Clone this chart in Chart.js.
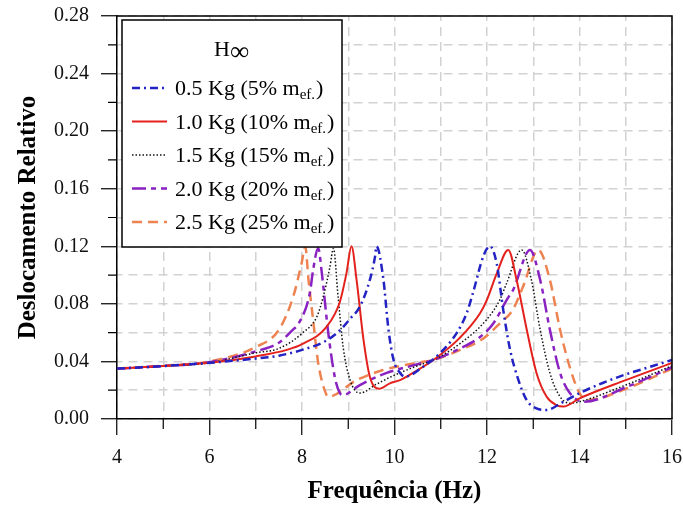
<!DOCTYPE html>
<html>
<head>
<meta charset="utf-8">
<script src="https://cdn.jsdelivr.net/npm/chart.js@4.4.1/dist/chart.umd.min.js"></script>
<style>
    html, body { margin: 0; padding: 0; background: #fff; }
</style>
</head>
<body>
<canvas id="chartDisp" width="683" height="506"></canvas>
<script>
// values (frequency in Hz, relative displacement)
const freq05 = [4, 5, 6, 7, 7.5, 8, 8.5, 8.8, 9.05, 9.25, 9.47, 9.58, 9.61, 9.76, 9.87, 9.98, 10.12, 10.23, 10.62, 10.98, 11.34, 11.56, 11.7, 11.92, 12.06, 12.21, 12.35, 12.5, 12.68, 12.86, 13.07, 13.29, 13.6, 14.0, 14.5, 15, 15.5, 16];
const disp05 = [0.035, 0.0368, 0.039, 0.042, 0.044, 0.048, 0.054, 0.061, 0.07, 0.078, 0.097, 0.113, 0.12, 0.097, 0.062, 0.041, 0.032, 0.0294, 0.0363, 0.0456, 0.0595, 0.0735, 0.088, 0.113, 0.12, 0.108, 0.076, 0.048, 0.027, 0.013, 0.0074, 0.0063, 0.011, 0.018, 0.025, 0.031, 0.036, 0.041];

const freq10 = [4, 5, 6, 7, 7.67, 8, 8.53, 8.82, 8.96, 9.07, 9.18, 9.33, 9.47, 9.67, 9.9, 10.12, 10.5, 10.84, 11.4, 11.85, 12.0, 12.21, 12.46, 12.64, 12.86, 13.07, 13.29, 13.5, 13.65, 14.0, 15, 16];
const disp10 = [0.035, 0.0368, 0.039, 0.0435, 0.048, 0.052, 0.064, 0.0815, 0.101, 0.12, 0.0966, 0.055, 0.029, 0.021, 0.0248, 0.027, 0.034, 0.041, 0.056, 0.0735, 0.083, 0.101, 0.1175, 0.0966, 0.062, 0.032, 0.0155, 0.0097, 0.0086, 0.0143, 0.027, 0.039];

const freq15 = [4, 5, 6, 7, 7.5, 8.02, 8.32, 8.46, 8.6, 8.68, 8.78, 8.89, 9.04, 9.25, 9.6, 9.97, 10.5, 10.84, 11.4, 11.99, 12.28, 12.42, 12.75, 12.96, 13.15, 13.36, 13.58, 13.79, 14.0, 15, 16];
const disp15 = [0.035, 0.0368, 0.039, 0.046, 0.049, 0.06, 0.071, 0.085, 0.105, 0.1185, 0.085, 0.05, 0.027, 0.018, 0.024, 0.03, 0.037, 0.041, 0.052, 0.069, 0.083, 0.094, 0.1175, 0.0966, 0.062, 0.032, 0.0155, 0.011, 0.012, 0.0236, 0.037];

const freq20 = [4, 5, 6, 7, 7.5, 7.8, 7.93, 8.17, 8.24, 8.35, 8.43, 8.56, 8.71, 8.82, 8.89, 9.25, 9.83, 10.5, 10.84, 11.42, 11.85, 12.14, 12.43, 12.57, 12.93, 13.15, 13.36, 13.58, 13.79, 14.1, 15, 16];
const disp20 = [0.035, 0.0368, 0.0395, 0.047, 0.053, 0.062, 0.0665, 0.0875, 0.1035, 0.1186, 0.101, 0.062, 0.029, 0.018, 0.0167, 0.0236, 0.032, 0.038, 0.041, 0.049, 0.057, 0.0665, 0.083, 0.09, 0.1175, 0.0966, 0.062, 0.032, 0.018, 0.012, 0.022, 0.036];

const freq25 = [4, 5, 6, 7, 7.5, 7.81, 7.99, 8.07, 8.14, 8.24, 8.35, 8.53, 8.57, 9.18, 9.75, 10.48, 10.84, 11.42, 11.92, 12.28, 12.56, 12.78, 13.11, 13.36, 13.58, 13.79, 14.0, 14.19, 15, 16];
const disp25 = [0.035, 0.037, 0.04, 0.05, 0.062, 0.085, 0.108, 0.12, 0.097, 0.069, 0.039, 0.0167, 0.0155, 0.027, 0.034, 0.039, 0.041, 0.048, 0.056, 0.0665, 0.076, 0.092, 0.1175, 0.0966, 0.062, 0.036, 0.018, 0.0132, 0.021, 0.035];

const legendTitle = 'H';
const legendTitleSub = '\u221E';
const legendMain = ['0.5 Kg (5% m', '1.0 Kg (10% m', '1.5 Kg (15% m', '2.0 Kg (20% m', '2.5 Kg (25% m'];
const legendSub = 'ef.';
const legendClose = ')';

const xTitle = 'Frequência (Hz)';
const yTitle = 'Deslocamento Relativo';

const serif = '"Liberation Serif", "DejaVu Serif", serif';

function zip(xs, ys) {
    return xs.map((x, i) => ({x: x, y: ys[i]}));
}

const seriesStyles = [
    {color: '#2323c4', dash: [8, 4, 2, 4], width: 2.5},
    {color: '#e3221e', dash: [], width: 2},
    {color: '#111111', dash: [1.5, 2], width: 1.5},
    {color: '#8a22c2', dash: [14, 5, 5, 5], width: 2.5},
    {color: '#ee8352', dash: [10, 6], width: 2.5}
];
const seriesData = [zip(freq05, disp05), zip(freq10, disp10), zip(freq15, disp15), zip(freq20, disp20), zip(freq25, disp25)];

const datasets = seriesData.map((data, i) => ({
    label: legendMain[i] + legendSub + legendClose,
    data: data,
    borderColor: seriesStyles[i].color,
    borderDash: seriesStyles[i].dash,
    borderWidth: seriesStyles[i].width,
    pointRadius: 0,
    fill: false,
    cubicInterpolationMode: 'monotone'
}));

function isMajorY(value) {
    return Math.round(value * 100) % 4 === 0;
}

function isMajorX(value) {
    return Math.round(value) % 2 === 0;
}

const framePlugin = {
    id: 'frame',
    afterDatasetsDraw(chart) {
        const {ctx, chartArea} = chart;
        ctx.save();
        ctx.strokeStyle = '#000';
        ctx.lineWidth = 1.5;
        ctx.beginPath();
        ctx.moveTo(chartArea.left, chartArea.top);
        ctx.lineTo(chartArea.right, chartArea.top);
        ctx.lineTo(chartArea.right, chartArea.bottom);
        ctx.stroke();

        // minor ticks, shorter than the major ones
        const xs = chart.scales.x;
        const ys = chart.scales.y;
        ctx.lineWidth = 1.2;
        ctx.beginPath();
        ys.ticks.forEach(t => {
            if (!isMajorY(t.value)) {
                const py = ys.getPixelForValue(t.value);
                ctx.moveTo(chartArea.left - 9, py);
                ctx.lineTo(chartArea.left, py);
            }
        });
        xs.ticks.forEach(t => {
            if (!isMajorX(t.value)) {
                const px = xs.getPixelForValue(t.value);
                ctx.moveTo(px, chartArea.bottom);
                ctx.lineTo(px, chartArea.bottom + 10);
            }
        });
        ctx.stroke();
        ctx.restore();
    },
    afterDraw(chart) {
        const {ctx, chartArea} = chart;
        const boxX = chartArea.left + 5;
        const boxY = chartArea.top + 4;
        const boxW = 220;
        const boxH = 227;
        ctx.save();
        ctx.fillStyle = '#fff';
        ctx.fillRect(boxX, boxY, boxW, boxH);
        ctx.strokeStyle = '#000';
        ctx.lineWidth = 1.5;
        ctx.strokeRect(boxX, boxY, boxW, boxH);

        ctx.fillStyle = '#000';
        ctx.textBaseline = 'alphabetic';
        ctx.font = '22px ' + serif;
        const hW = ctx.measureText(legendTitle).width;
        ctx.fillText(legendTitle, boxX + 92, boxY + 36);
        ctx.font = '27px ' + serif;
        ctx.fillText(legendTitleSub, boxX + 92 + hW, boxY + 40);

        legendMain.forEach((txt, i) => {
            const rowY = boxY + 68 + i * 33.5;
            const st = seriesStyles[i];
            ctx.strokeStyle = st.color;
            ctx.lineWidth = st.width;
            ctx.setLineDash(st.dash);
            ctx.beginPath();
            ctx.moveTo(boxX + 10, rowY);
            ctx.lineTo(boxX + 45, rowY);
            ctx.stroke();
            ctx.setLineDash([]);

            let tx = boxX + 53;
            const base = rowY + 7;
            ctx.font = '22px ' + serif;
            ctx.fillText(txt, tx, base);
            tx += ctx.measureText(txt).width;
            ctx.font = '15px ' + serif;
            ctx.fillText(legendSub, tx, base + 4);
            tx += ctx.measureText(legendSub).width;
            ctx.font = '22px ' + serif;
            ctx.fillText(legendClose, tx + 1, base);
        });
        ctx.restore();
    }
};

const ctx = document.getElementById('chartDisp').getContext('2d');
new Chart(ctx, {
    type: 'line',
    data: {datasets: datasets},
    plugins: [framePlugin],
    options: {
        responsive: false,
        animation: false,
        layout: {padding: {top: 16, right: 11, left: 0, bottom: 0}},
        plugins: {
            legend: {display: false},
            tooltip: {enabled: false}
        },
        scales: {
            x: {
                type: 'linear',
                min: 4,
                max: 16,
                afterFit: scale => {
                    scale.height = 87;
                    scale.paddingLeft = 0;
                    scale.paddingRight = 0;
                },
                ticks: {
                    stepSize: 1,
                    autoSkip: false,
                    maxRotation: 0,
                    padding: 11,
                    color: '#111',
                    font: {family: serif, size: 20},
                    callback: value => isMajorX(value) ? String(value) : ''
                },
                grid: {
                    color: '#d2d2d2',
                    lineWidth: 1.5,
                    tickBorderDash: [],
                    tickLength: 16,
                    tickWidth: 1.2,
                    tickColor: c => (c.tick && isMajorX(c.tick.value)) ? '#000' : 'rgba(0,0,0,0)'
                },
                border: {color: '#000', width: 1.5, dash: [9, 6], dashOffset: 4},
                title: {
                    display: true,
                    text: xTitle,
                    color: '#000',
                    font: {family: serif, size: 25, weight: 'bold', lineHeight: 1.1},
                    padding: {top: 0, bottom: 1}
                }
            },
            y: {
                min: 0,
                max: 0.28,
                afterFit: scale => {
                    scale.width = 117;
                    scale.paddingTop = 0;
                    scale.paddingBottom = 0;
                },
                ticks: {
                    stepSize: 0.02,
                    autoSkip: false,
                    padding: 12,
                    color: '#111',
                    font: {family: serif, size: 20},
                    callback: value => isMajorY(value) ? value.toFixed(2) : ''
                },
                grid: {
                    color: '#d2d2d2',
                    lineWidth: 1.5,
                    tickBorderDash: [],
                    tickLength: 16,
                    tickWidth: 1.2,
                    tickColor: c => (c.tick && isMajorY(c.tick.value)) ? '#000' : 'rgba(0,0,0,0)'
                },
                border: {color: '#000', width: 1.5, dash: [9, 6], dashOffset: 4},
                title: {
                    display: true,
                    text: yTitle,
                    color: '#000',
                    font: {family: serif, size: 25, weight: 'bold', lineHeight: 1.2},
                    padding: {top: 14, bottom: 0}
                }
            }
        }
    }
});
</script>
</body>
</html>
